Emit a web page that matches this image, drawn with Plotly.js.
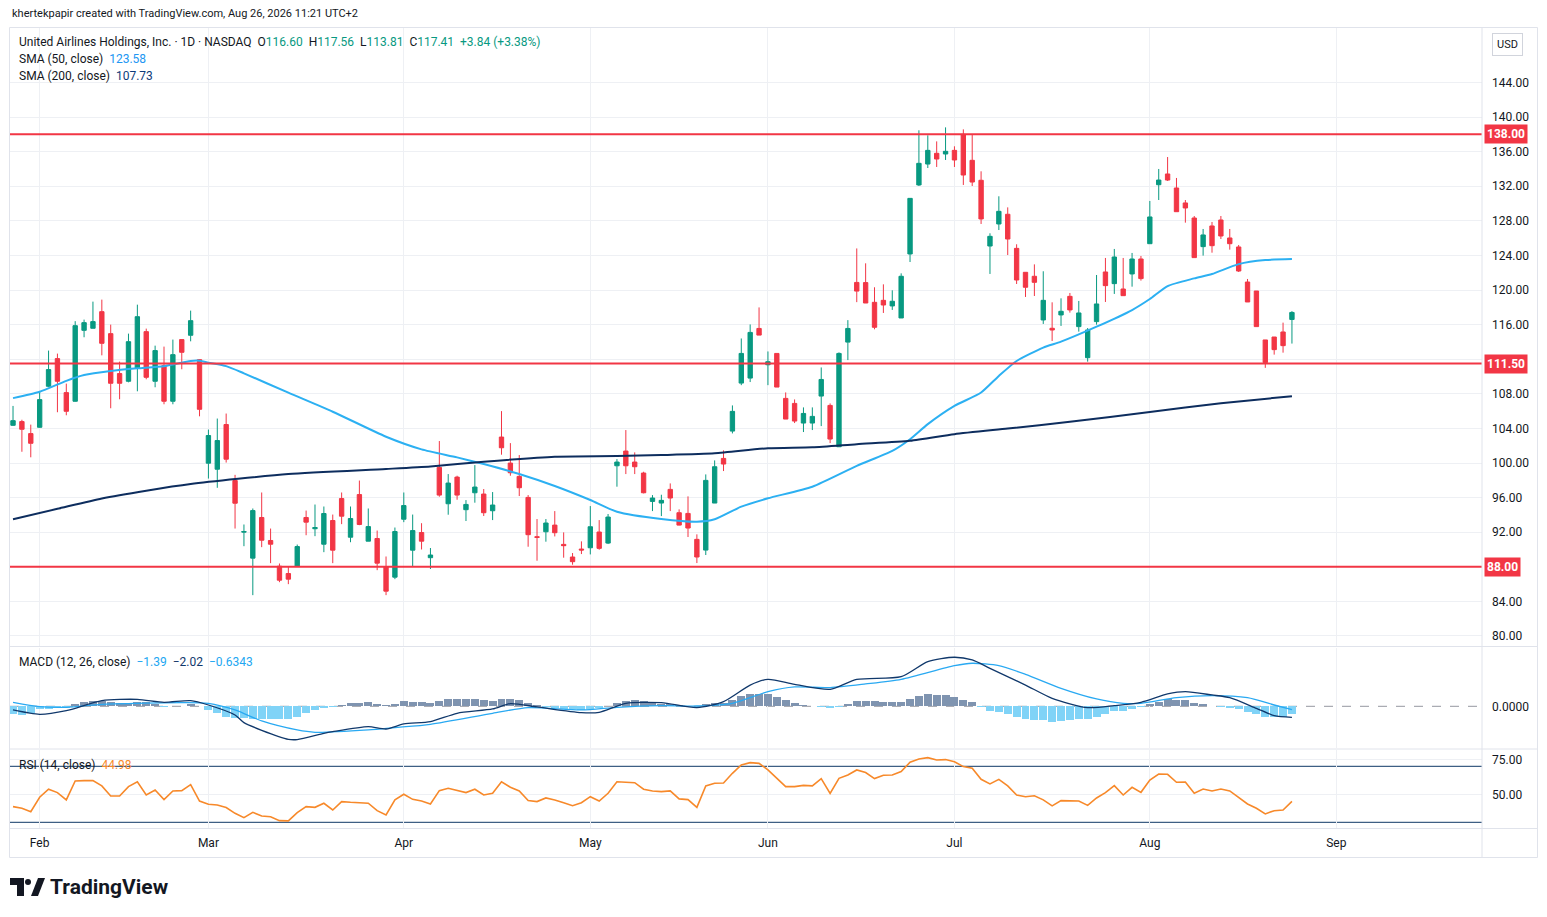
<!DOCTYPE html>
<html>
<head>
<meta charset="utf-8">
<script src="https://cdn.plot.ly/plotly-3.0.1.min.js"></script>
<style>
  html, body { margin: 0; padding: 0; background: #ffffff; }
  #chart { width: 1547px; height: 917px; }
</style>
</head>
<body>
<div id="chart"></div>
<script>
// ---------------- DATA ----------------
const open = [104.36,104.79,103.4,104.13,108.87,112.07,108.14,107.14,115.34,115.58,117.5,114.96,110.34,109.45,110.95,115.19,109.45,111.26,107.14,114.27,114.77,111.95,
  99.98,99.28,104.45,97.97,92.0,89.0,93.7,91.04,88.07,87.22,88.03,93.7,92.4,90.61,93.35,95.89,91.42,96.35,90.96,91.27,88.03,86.8,93.5,89.92,91.96,89.05,
  99.49,95.29,98.37,94.6,96.56,96.41,94.48,103.0,99.99,98.45,96.02,91.48,92.05,92.82,90.59,89.13,90.05,90.2,92.02,90.74,99.68,101.38,100.11,98.84,95.56,
  95.37,96.95,94.25,94.17,91.17,89.93,95.37,100.53,103.69,109.24,109.82,115.56,111.36,112.67,107.47,106.89,104.62,104.62,107.74,106.66,101.88,113.98,120.88,
  120.86,118.58,118.81,118.16,116.77,124.17,132.15,134.57,135.81,135.73,136.15,138.0,135.0,132.69,125.09,127.64,128.76,124.82,122.05,121.59,116.54,115.58,117.12,119.27,
  115.77,112.18,116.35,122.09,120.74,120.12,121.86,123.59,125.36,132.18,133.42,131.8,130.07,128.33,125.02,127.41,128.1,126.02,124.98,120.93,119.89,114.23,114.57,115.15,116.60];
const high = [106.6,105.0,104.44,108.3,113.0,112.65,109.18,116.4,116.58,118.66,118.89,116.0,111.72,114.96,118.31,115.54,113.57,113.46,114.27,114.27,117.62,112.0,
  103.87,105.14,105.72,98.63,92.89,94.74,96.59,92.42,88.38,88.07,90.57,94.5,95.2,94.97,94.04,96.59,94.97,97.97,94.74,92.19,89.19,92.54,96.59,94.04,93.04,90.17,
  102.54,98.72,98.53,95.71,99.76,96.99,96.64,106.0,102.3,100.92,96.29,93.52,93.52,94.44,91.98,89.59,90.94,95.02,93.4,94.1,100.45,103.81,101.23,98.99,96.29,
  96.33,97.64,94.64,96.14,91.75,98.68,100.3,101.46,106.66,114.4,116.02,117.99,112.9,112.67,108.16,107.35,106.43,106.43,111.05,106.89,112.79,116.52,124.81,
  123.09,120.32,120.66,119.97,121.93,130.6,138.47,137.89,137.19,138.81,136.62,138.58,138.0,133.73,126.56,130.84,129.56,125.29,122.05,122.97,122.17,118.58,119.04,119.66,
  118.74,115.61,121.74,123.71,124.75,123.71,124.29,123.94,130.3,134.0,135.38,132.96,130.41,128.56,127.06,127.87,128.56,127.06,125.21,121.28,119.89,114.23,114.57,116.23,117.56];
const low = [104.3,101.3,100.66,104.1,108.8,105.87,105.52,107.1,114.54,115.58,112.45,106.33,107.37,109.33,108.29,109.68,108.76,106.79,106.79,110.84,114.07,105.4,
  98.2,97.13,100.05,92.42,90.38,84.72,90.27,88.42,86.22,85.99,88.0,91.65,91.54,89.69,88.42,92.93,90.84,92.81,90.96,87.61,84.72,86.57,93.16,88.07,90.0,87.74,
  96.1,94.02,95.75,93.29,95.41,93.87,93.4,100.96,98.53,96.18,90.32,88.7,90.9,91.51,89.05,88.24,89.47,89.43,89.97,90.63,97.26,98.72,98.72,96.49,94.44,
  93.86,94.44,92.79,91.44,88.43,89.36,95.37,99.07,103.42,109.0,109.36,114.79,109.0,108.78,105.08,104.62,103.58,103.81,104.27,102.3,101.88,111.9,118.6,
  118.5,115.46,117.35,117.7,116.77,123.24,132.03,134.11,134.23,135.04,134.23,132.15,132.03,127.64,121.86,126.94,124.05,120.7,119.2,119.31,116.08,114.11,115.85,117.39,
  115.19,111.72,116.0,118.62,119.55,119.35,120.39,121.09,125.36,130.41,132.61,129.06,127.79,123.75,123.98,124.32,125.9,124.67,122.09,118.62,115.77,111.0,112.53,112.76,113.81];
const close = [104.9,103.9,102.28,107.33,110.8,109.45,105.98,115.88,116.23,116.35,113.84,109.22,109.22,114.03,116.92,109.91,113.0,107.14,112.53,112.8,116.46,106.21,
  103.18,102.6,100.44,95.35,92.08,94.5,91.07,90.61,86.45,86.57,90.34,93.16,92.54,94.16,89.92,93.85,93.58,92.89,92.65,88.42,85.18,92.08,95.08,92.19,90.96,89.36,
  96.29,97.68,96.29,95.21,97.22,94.25,95.14,101.76,98.87,97.14,91.71,91.4,93.06,91.94,90.44,88.59,89.94,92.63,90.13,93.75,100.11,99.68,99.57,96.56,95.95,
  95.68,95.95,92.82,92.48,89.13,97.99,99.57,99.88,105.97,112.67,115.1,114.79,111.71,108.78,105.08,104.85,105.73,105.39,109.66,102.77,112.67,115.56,119.88,
  118.5,115.69,118.27,118.7,121.59,130.6,134.65,136.15,135.15,136.04,135.04,133.3,132.49,128.22,126.21,129.1,125.9,121.16,120.32,120.89,118.81,115.38,117.54,117.7,
  117.35,115.38,118.39,120.51,123.82,119.35,123.59,121.32,128.45,132.72,132.72,129.06,129.49,123.75,126.37,125.13,126.25,125.36,122.2,118.62,115.77,111.61,113.11,113.57,117.41];

// SMA lines, sampled along the bar index
const sma50Bar = [0,3,6,8,11,14,17,20,21,22,24,26,31,36,42,46,50,53,57,61,65,68,73,77,79,82,85,90,95,99,101,103,106,109,111,113,116,118,122,126,128,130,133,135,138,141,144];
const sma50 = [107.5,108.24,109.5,110.17,110.64,110.95,111.2,111.8,111.83,111.6,111.2,110.37,108.13,105.93,103.04,101.58,100.65,99.88,98.73,97.34,95.72,94.37,93.53,93.21,93.49,94.95,95.92,97.26,99.67,101.4,102.75,104.49,106.6,108.15,110.07,111.8,113.35,114.03,115.76,117.69,118.96,120.46,121.35,121.85,123.0,123.47,123.58];
const sma200Bar = [0,5,10,15,20,31,42,47,53,61,68,73,79,85,90,95,101,106,112,119,128,136,144];
const sma200 = [93.5,94.7,95.9,96.8,97.57,98.73,99.31,99.6,100.15,100.73,100.8,100.92,101.12,101.7,101.81,102.17,102.56,103.33,103.98,104.76,105.9,106.9,107.73];

// Horizontal levels
const levels = [138.0, 111.5, 88.0];

// MACD (12, 26, close)
const macdHist = [-1.47,-1.6,-1.3,-0.5,-0.5,-0.37,-0.37,0.43,0.73,0.98,0.98,0.73,0.55,0.55,0.73,0.73,0.43,-0.12,0.02,0.12,0.43,0.0,
  -0.73,-1.28,-1.9,-2.2,-2.2,-2.3,-2.3,-2.3,-2.3,-2.3,-1.9,-1.28,-0.73,-0.25,-0.12,0.25,0.55,0.55,0.73,0.37,0.25,0.37,0.98,0.86,0.73,0.6,
  0.98,1.35,1.35,1.35,1.35,1.16,0.98,1.35,1.35,1.16,0.6,0.25,-0.12,-0.25,-0.5,-0.5,-0.6,-0.5,-0.37,0.0,0.6,0.98,1.16,0.98,0.6,
  0.5,0.37,0.25,0.12,0.06,0.37,0.6,0.6,1.1,1.84,2.2,2.32,2.32,1.71,1.16,0.6,0.25,0.0,-0.05,-0.37,-0.05,0.37,0.98,
  0.98,0.98,0.8,0.8,0.8,1.35,1.9,2.26,2.08,2.08,1.71,1.16,0.8,-0.05,-0.86,-0.98,-1.35,-1.9,-2.26,-2.45,-2.45,-2.81,-2.63,-2.45,
  -2.26,-2.26,-1.9,-1.35,-0.8,-0.8,-0.43,-0.18,0.43,0.8,1.35,1.16,1.16,0.6,0.43,0.0,-0.05,-0.25,-0.43,-0.98,-1.35,-1.9,-1.9,-1.9,-1.39];
const macdBar = [0,3,6,10,14,17,20,22,25,26,28,31,32,35,36,40,42,44,47,50,54,56,59,64,66,69,73,77,80,83,85,88,92,95,100,103,106,108,110,114,117,121,124,127,130,132,135,137,140,142,144];
const macdLine = [-0.67,-1.47,-0.8,1.04,1.28,0.73,1.04,0.24,-1.59,-3.0,-4.4,-6.05,-6.1,-4.95,-4.65,-3.73,-4.16,-3.24,-2.81,-1.28,-0.49,0.49,-0.12,-1.16,-1.1,0.55,0.67,-0.24,0.86,3.9,4.95,4.04,3.12,4.95,5.44,8.2,9.0,8.5,6.97,3.9,1.47,-0.24,0.12,0.73,2.26,2.69,2.08,1.59,-0.37,-1.71,-2.02];
const signalBar = [0,3,6,10,14,19,22,25,28,32,34,40,43,47,54,58,64,68,73,77,81,85,88,92,96,100,106,108,111,114,118,122,125,127,131,135,139,142,144];
const signalLine = [0.73,-0.06,-0.18,0.37,0.55,0.67,0.55,-0.67,-2.69,-4.34,-4.77,-4.34,-3.91,-3.3,-1.28,-0.24,-0.67,-0.18,0.12,0.06,0.55,2.69,3.55,3.43,4.1,4.95,7.46,7.9,7.46,5.87,3.3,1.35,0.55,0.55,1.59,1.96,1.59,0.24,-0.63];

// RSI (14, close)
const rsi = [41.2,40,37.6,47.9,53.6,51.2,46,59.5,59.8,59.8,56,48.8,48.8,55.5,59,49.5,53.1,46.2,52.4,52.6,56.9,45.2,
  42.9,42.4,40.5,36.4,33.3,37.1,34.5,34,31.2,31,36.9,41.2,40.7,43.6,38.8,44.8,44.3,43.8,43.6,38.3,35.2,46,50,46.4,45.2,43.1,
  52.6,54.3,52.6,51.2,53.6,49.5,50.7,59,55,52.4,45.5,44.8,47.4,46,44,41.9,44,48.3,45.2,50.7,59,58.6,58.3,53.6,52.4,
  51.9,52.4,46.7,46.2,40.7,56,57.9,58.1,65,71,72.6,72.1,67.4,61.4,55.5,55.5,56.4,56,61.2,50.7,61.4,63.8,67.4,
  65.5,61.2,63.6,63.8,66.2,72.9,75.2,76.2,74.5,74.8,73.3,69.8,68.6,60.7,57.4,60.7,56,49.5,48.3,49,46,41.7,45.5,45.5,
  45.2,42.1,47.4,51.2,56.2,49.5,55,51.4,60.2,64.5,64.3,58.6,58.8,50.7,53.8,52.4,53.8,52.4,47.6,43.1,40,36,38.3,38.8,44.98];
const rsiBands = [70, 30];

// Time axis: bar index of the first session of each month
const monthBar = [3, 22, 44, 65, 85, 106, 128, 149];
const monthLabels = ['Feb','Mar','Apr','May','Jun','Jul','Aug','Sep'];

const priceTicks = [80,84,88,92,96,100,104,108,112,116,120,124,128,132,136,140,144];

// ---------------- STYLE ----------------
const UP = '#089981', DOWN = '#f23645', TXT = '#131722', GRID = '#eef0f4';
const SMA50C = '#2cb0f2', SMA200C = '#0d2d5e';
const FONT = 'Roboto, "Liberation Sans", Arial, sans-serif';

const bars = close.map((_, i) => i);

// pixel -> paper helpers (plot area: x 10..1482, y 28..828)
const W = 1547, H = 917, L = 10, R = 65, T = 28, B = 89;
const PW = W - L - R, PH = H - T - B;
const px = x => (x - L) / PW;
const py = y => (H - B - y) / PH;

const traces = [
  {
    type: 'candlestick', x: bars, open: open, high: high, low: low, close: close,
    xaxis: 'x3', yaxis: 'y',
    increasing: { line: { color: UP, width: 1 }, fillcolor: UP },
    decreasing: { line: { color: DOWN, width: 1 }, fillcolor: DOWN },
    hoverinfo: 'skip', showlegend: false
  },
  {
    type: 'scatter', mode: 'lines', x: sma50Bar, y: sma50, xaxis: 'x3', yaxis: 'y',
    line: { color: SMA50C, width: 2, shape: 'spline', smoothing: 0.6 }, hoverinfo: 'skip', showlegend: false
  },
  {
    type: 'scatter', mode: 'lines', x: sma200Bar, y: sma200, xaxis: 'x3', yaxis: 'y',
    line: { color: SMA200C, width: 2, shape: 'spline', smoothing: 0.6 }, hoverinfo: 'skip', showlegend: false
  },
  {
    type: 'bar', x: bars, y: macdHist, xaxis: 'x2', yaxis: 'y2', width: 0.9,
    marker: { color: macdHist.map(v => v >= 0 ? '#7f94b0' : '#80d3f7') },
    hoverinfo: 'skip', showlegend: false
  },
  {
    type: 'scatter', mode: 'lines', x: signalBar, y: signalLine, xaxis: 'x2', yaxis: 'y2',
    line: { color: '#29a9f2', width: 1.3, shape: 'spline', smoothing: 0.7 }, hoverinfo: 'skip', showlegend: false
  },
  {
    type: 'scatter', mode: 'lines', x: macdBar, y: macdLine, xaxis: 'x2', yaxis: 'y2',
    line: { color: '#10386b', width: 1.3, shape: 'spline', smoothing: 0.7 }, hoverinfo: 'skip', showlegend: false
  },
  {
    type: 'scatter', mode: 'lines', x: bars, y: rsi, xaxis: 'x', yaxis: 'y3',
    line: { color: '#f7892a', width: 1.6 }, hoverinfo: 'skip', showlegend: false
  }
];

const shapes = [];
levels.forEach(v => shapes.push({
  type: 'line', xref: 'paper', yref: 'y', x0: 0, x1: 1, y0: v, y1: v,
  line: { color: DOWN, width: 2 }, layer: 'above'
}));
rsiBands.forEach(v => shapes.push({
  type: 'line', xref: 'paper', yref: 'y3', x0: 0, x1: 1, y0: v, y1: v,
  line: { color: '#0e3766', width: 1 }, layer: 'below'
}));
shapes.push({ type: 'line', xref: 'paper', yref: 'y2', x0: 0, x1: 1, y0: 0, y1: 0,
  line: { color: '#9598a1', width: 1, dash: 'dash' }, layer: 'below' });
// frame + pane separators
const FR = '#e0e3eb';
shapes.push({ type: 'rect', xref: 'paper', yref: 'paper', x0: px(9.5), x1: px(1537.5), y0: py(857.5), y1: py(27.5), line: { color: FR, width: 1 } });
shapes.push({ type: 'line', xref: 'paper', yref: 'paper', x0: px(1482), x1: px(1482), y0: py(857.5), y1: py(27.5), line: { color: FR, width: 1 } });
[646.5, 749, 828.5].forEach(yy => shapes.push({ type: 'line', xref: 'paper', yref: 'paper', x0: px(9.5), x1: px(1537.5), y0: py(yy), y1: py(yy), line: { color: FR, width: 1 } }));
// TradingView logo mark
shapes.push({ type: 'rect', xref: 'paper', yref: 'paper', x0: px(10), x1: px(24), y0: py(885), y1: py(878), fillcolor: TXT, line: { width: 0 } });
shapes.push({ type: 'rect', xref: 'paper', yref: 'paper', x0: px(17), x1: px(24), y0: py(896), y1: py(878), fillcolor: TXT, line: { width: 0 } });
shapes.push({ type: 'circle', xref: 'paper', yref: 'paper', x0: px(25), x1: px(31), y0: py(885), y1: py(879), fillcolor: TXT, line: { width: 0 } });
shapes.push({ type: 'path', xref: 'paper', yref: 'paper',
  path: `M ${px(31)} ${py(896)} L ${px(38)} ${py(878)} L ${px(45)} ${py(878)} L ${px(38)} ${py(896)} Z`, fillcolor: TXT, line: { width: 0 } });

const f12 = { family: FONT, size: 12, color: TXT };
const sp = (c, t) => `<span style="color:${c}">${t}</span>`;

const annotations = [
  { xref: 'paper', yref: 'paper', x: px(10), y: py(14), xanchor: 'left', yanchor: 'middle', showarrow: false,
    text: 'khertekpapir created with TradingView.com, Aug 26, 2026 11:21 UTC+2', font: { family: FONT, size: 11, color: TXT } },
  { xref: 'paper', yref: 'paper', x: px(17), y: py(42), xanchor: 'left', yanchor: 'middle', showarrow: false, font: f12,
    text: 'United Airlines Holdings, Inc. · 1D · NASDAQ  O' + sp(UP, open[144].toFixed(2)) + '  H' + sp(UP, high[144].toFixed(2)) +
      '  L' + sp(UP, low[144].toFixed(2)) + '  C' + sp(UP, close[144].toFixed(2)) + '  ' + sp(UP, '+3.84 (+3.38%)') },
  { xref: 'paper', yref: 'paper', x: px(17), y: py(59), xanchor: 'left', yanchor: 'middle', showarrow: false, font: f12,
    text: 'SMA (50, close)  ' + sp('#2196f3', sma50[sma50.length - 1].toFixed(2)) },
  { xref: 'paper', yref: 'paper', x: px(17), y: py(76), xanchor: 'left', yanchor: 'middle', showarrow: false, font: f12,
    text: 'SMA (200, close)  ' + sp('#0d3b7a', sma200[sma200.length - 1].toFixed(2)) },
  { xref: 'paper', yref: 'paper', x: px(17), y: py(662), xanchor: 'left', yanchor: 'middle', showarrow: false, font: f12,
    text: 'MACD (12, 26, close)  ' + sp('#22a7f2', '−1.39') + '  ' + sp('#10386b', '−2.02') + '  ' + sp('#22a7f2', '−0.6343') },
  { xref: 'paper', yref: 'paper', x: px(17), y: py(765), xanchor: 'left', yanchor: 'middle', showarrow: false, font: f12,
    text: 'RSI (14, close)  ' + sp('#f7892a', rsi[rsi.length - 1].toFixed(2)) },
  { xref: 'paper', yref: 'paper', x: px(1507), y: py(44), xanchor: 'center', yanchor: 'middle', showarrow: false,
    text: 'USD', font: { family: FONT, size: 11, color: TXT }, bordercolor: '#d1d4dc', borderwidth: 1, borderpad: 4, bgcolor: '#ffffff' },
  { xref: 'paper', yref: 'paper', x: px(48), y: py(887), xanchor: 'left', yanchor: 'middle', showarrow: false,
    text: '<b>TradingView</b>', font: { family: FONT, size: 21, color: TXT } }
];
levels.forEach(v => annotations.push({
  xref: 'paper', yref: 'y', x: px(1484), y: v, xanchor: 'left', yanchor: 'middle', showarrow: false,
  text: '<b>' + v.toFixed(2) + '</b>', font: { family: FONT, size: 12, color: '#ffffff' },
  bgcolor: DOWN, borderpad: 2
}));

// tick labels hidden behind the red level tags
const priceTickText = priceTicks.map(v => levels.some(l => Math.abs(l - v) < 1) ? '' : v.toFixed(2));

const xcommon = {
  range: [-0.34, 165.4], tickvals: monthBar, ticktext: monthLabels,
  showgrid: true, gridcolor: GRID, gridwidth: 1, zeroline: false, showline: false, ticks: '',
  fixedrange: true
};

const layout = {
  width: W, height: H,
  margin: { l: L, r: R, t: T, b: B },
  paper_bgcolor: '#ffffff', plot_bgcolor: '#ffffff',
  font: { family: FONT, size: 12, color: TXT },
  showlegend: false, bargap: 0,
  xaxis: Object.assign({}, xcommon, { anchor: 'y3', domain: [0, 1], ticklabelstandoff: 6,
    tickfont: { family: FONT, size: 12, color: TXT }, rangeslider: { visible: false } }),
  xaxis2: Object.assign({}, xcommon, { anchor: 'y2', matches: 'x', showticklabels: false, rangeslider: { visible: false } }),
  xaxis3: Object.assign({}, xcommon, { anchor: 'y', matches: 'x', showticklabels: false, rangeslider: { visible: false } }),
  yaxis: {
    domain: [0.2275, 1], anchor: 'x3', side: 'right', range: [78.84, 150.3],
    tickvals: priceTicks, ticktext: priceTickText, showgrid: true, gridcolor: GRID, zeroline: false, ticks: '',
    ticklabelstandoff: 9, tickfont: { family: FONT, size: 12, color: TXT }, fixedrange: true
  },
  yaxis2: {
    domain: [0.1, 0.225], anchor: 'x2', side: 'right', range: [-7.65, 10.7],
    tickvals: [0], ticktext: ['0.0000'], showgrid: false, zeroline: false, ticks: '',
    ticklabelstandoff: 9, tickfont: { family: FONT, size: 12, color: TXT }, fixedrange: true
  },
  yaxis3: {
    domain: [0, 0.0975], anchor: 'x', side: 'right', range: [25.93, 81.64],
    tickvals: [50, 75], tickformat: '.2f', showgrid: true, gridcolor: GRID, zeroline: false, ticks: '',
    ticklabelstandoff: 9, tickfont: { family: FONT, size: 12, color: TXT }, fixedrange: true
  },
  shapes: shapes,
  annotations: annotations
};

Plotly.newPlot('chart', traces, layout, { displayModeBar: false, staticPlot: true });
</script>
</body>
</html>
